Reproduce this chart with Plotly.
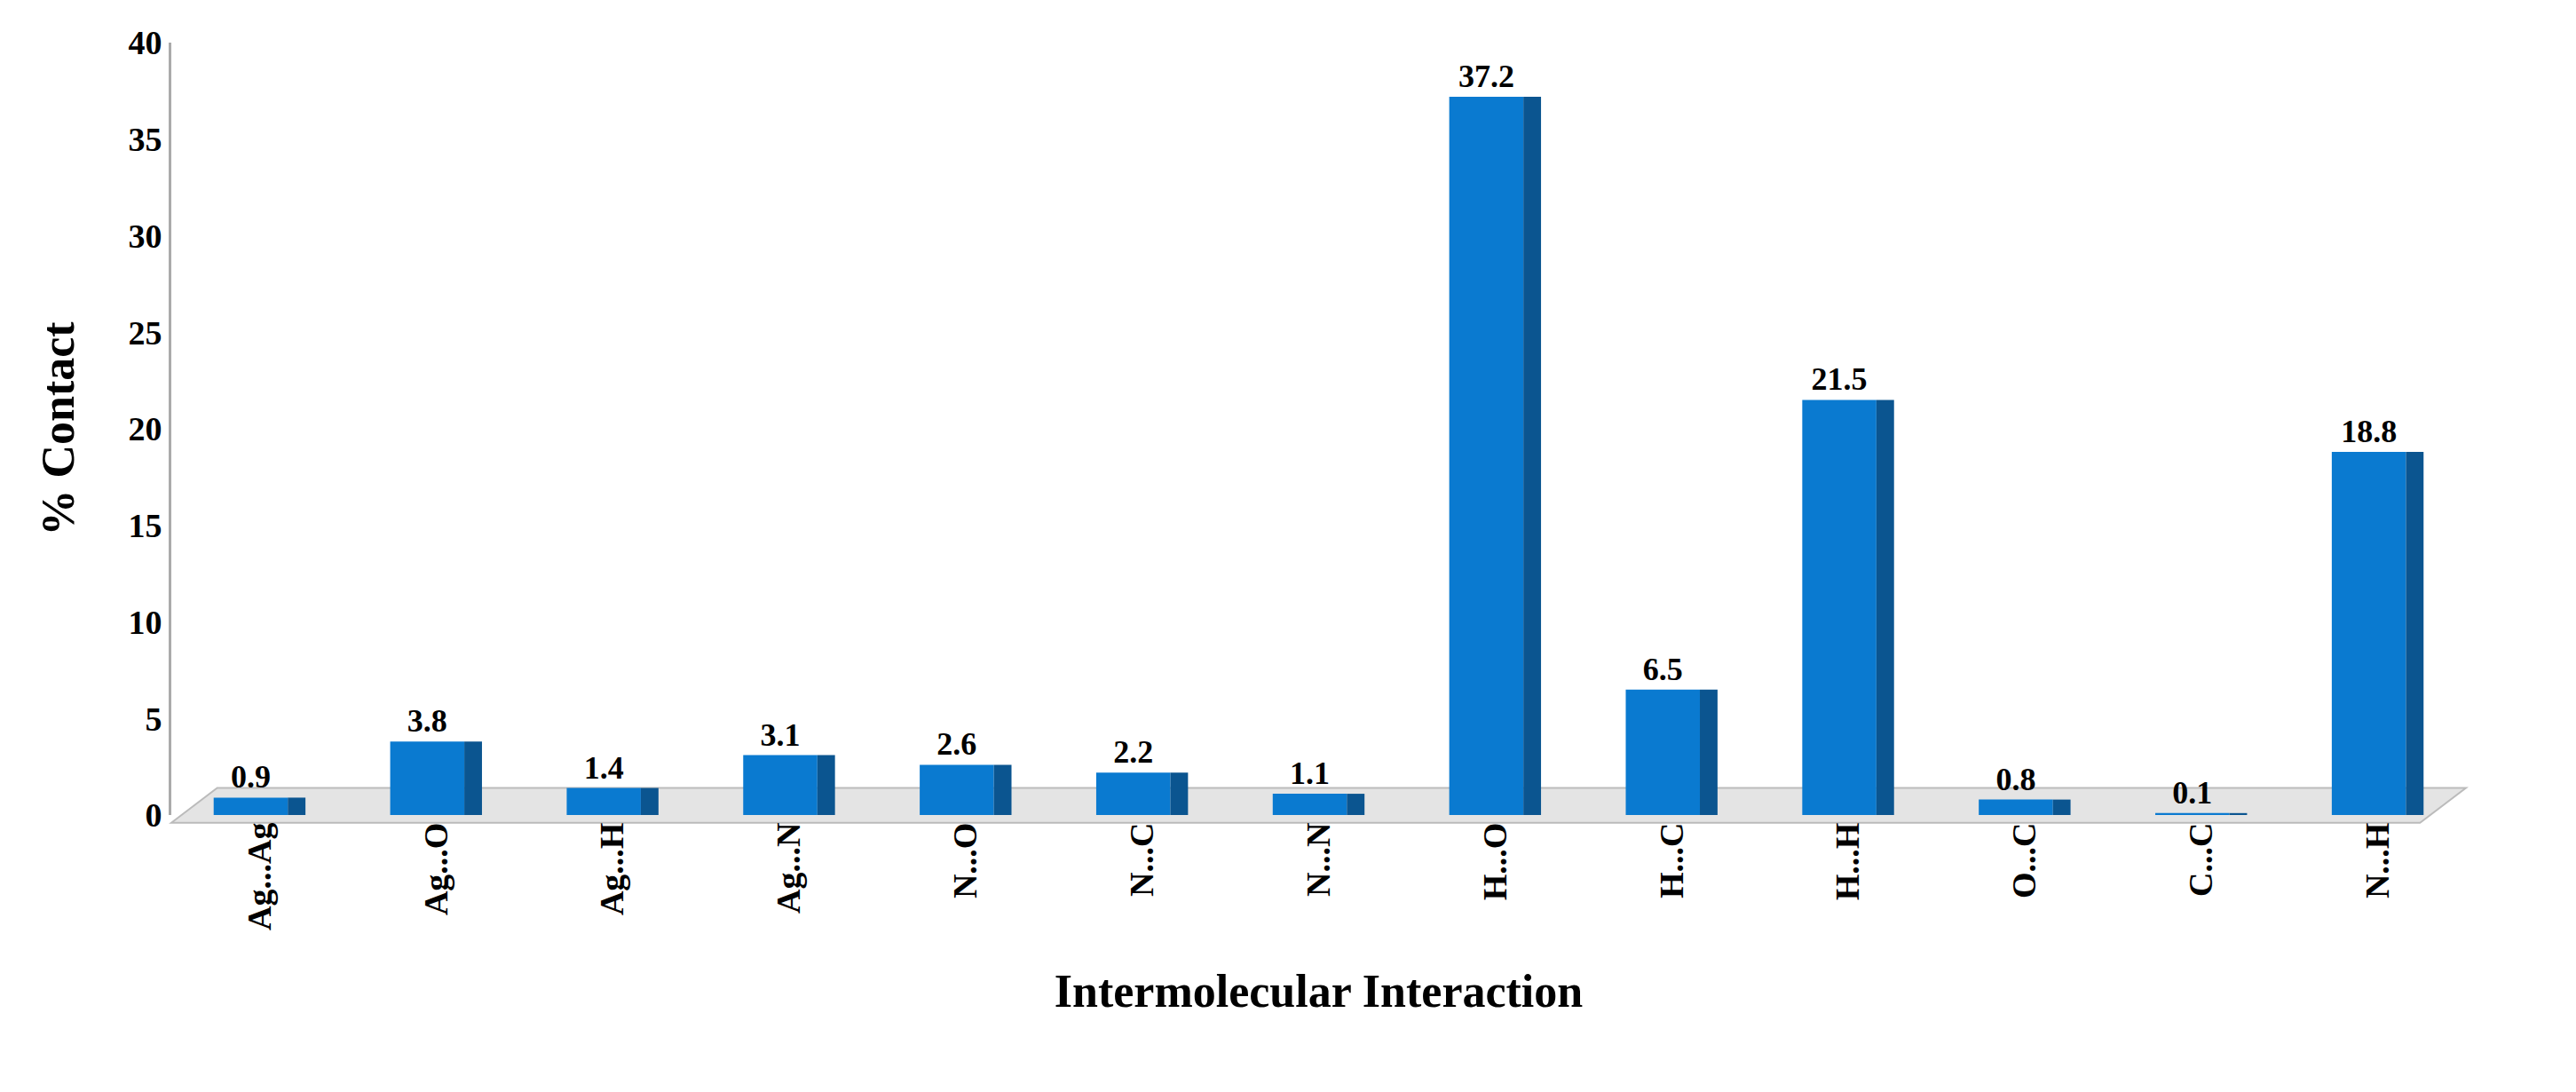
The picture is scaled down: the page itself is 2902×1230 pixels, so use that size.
import plotly.graph_objects as go

categories = ["Ag...Ag","Ag...O","Ag...H","Ag...N","N...O","N...C","N...N","H...O","H...C","H...H","O...C","C...C","N...H"]
values = [0.9,3.8,1.4,3.1,2.6,2.2,1.1,37.2,6.5,21.5,0.8,0.1,18.8]
yticks = [0,5,10,15,20,25,30,35,40]

font = "Liberation Serif"
fig = go.Figure()
fig.add_trace(go.Bar(x=categories, y=values, width=0.42, offset=-0.26,
                     marker=dict(color="#0a7ad0", line=dict(width=0)),
                     text=[f"<b>{v}</b>" for v in values], textposition="outside",
                     textfont=dict(family=font, size=36, color="black"),
                     cliponaxis=False, hoverinfo="skip"))
fig.add_trace(go.Bar(x=categories, y=values, width=0.1, offset=0.16,
                     marker=dict(color="#0b5590", line=dict(width=0)), hoverinfo="skip"))
fig.update_layout(
    width=2902, height=1230, showlegend=False, barmode="overlay",
    plot_bgcolor="white", paper_bgcolor="white",
    margin=dict(l=185, r=132, t=40, b=320),
    font=dict(family=font, color="black"),
    shapes=[dict(type="path", xref="paper", yref="paper",
                 path="M 0,-0.01 L 0.02,0.035 L 1.0,0.035 L 0.98,-0.01 Z",
                 fillcolor="#e4e4e4", line=dict(color="#bbbbbb", width=2), layer="below")],
)
fig.update_xaxes(tickangle=-90, tickfont=dict(size=38, weight="bold"), showline=False, ticks="",
                 title=dict(text="Intermolecular Interaction", font=dict(size=52, weight="bold"), standoff=50))
fig.update_yaxes(range=[0,40], tickvals=yticks, tickfont=dict(size=38, weight="bold"), showgrid=False,
                 showline=True, linecolor="#aaaaaa", linewidth=3, zeroline=False, ticklen=0,
                 title=dict(text="% Contact", font=dict(size=52, weight="bold"), standoff=45))
fig.write_html("out.html")
